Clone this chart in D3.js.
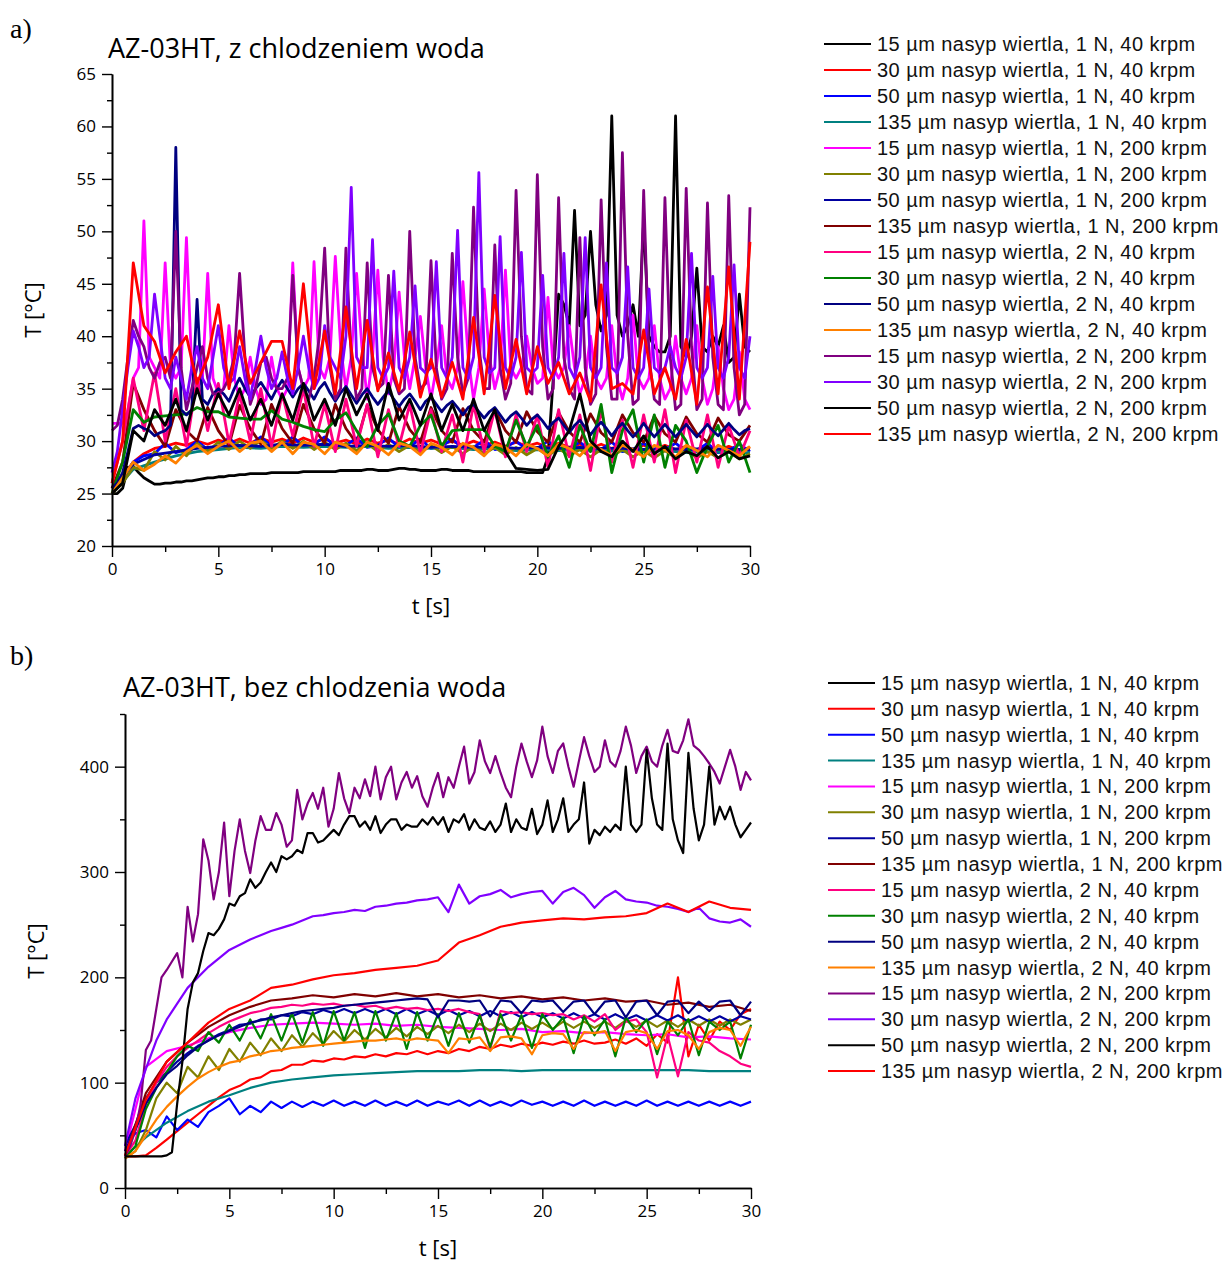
<!DOCTYPE html>
<html><head><meta charset="utf-8">
<script src="https://cdn.jsdelivr.net/npm/d3@7"></script>
<style>body{margin:0;background:#fff}</style>
</head><body>
<svg id="chart" width="1224" height="1262"></svg>
<script>
// ---------- legend / series definitions ----------
const seriesNames = [
  "15 µm nasyp wiertla, 1 N, 40 krpm",
  "30 µm nasyp wiertla, 1 N, 40 krpm",
  "50 µm nasyp wiertla, 1 N, 40 krpm",
  "135 µm nasyp wiertla, 1 N, 40 krpm",
  "15 µm nasyp wiertla, 1 N, 200 krpm",
  "30 µm nasyp wiertla, 1 N, 200 krpm",
  "50 µm nasyp wiertla, 1 N, 200 krpm",
  "135 µm nasyp wiertla, 1 N, 200 krpm",
  "15 µm nasyp wiertla, 2 N, 40 krpm",
  "30 µm nasyp wiertla, 2 N, 40 krpm",
  "50 µm nasyp wiertla, 2 N, 40 krpm",
  "135 µm nasyp wiertla, 2 N, 40 krpm",
  "15 µm nasyp wiertla, 2 N, 200 krpm",
  "30 µm nasyp wiertla, 2 N, 200 krpm",
  "50 µm nasyp wiertla, 2 N, 200 krpm",
  "135 µm nasyp wiertla, 2 N, 200 krpm"
];
const seriesColors = ["#000000","#ff0000","#0000ff","#008080","#ff00ff","#808000","#0000a0","#800000",
                      "#ff0080","#008000","#000080","#ff8000","#800080","#8000ff","#000000","#ff0000"];

// time axis: each series is sampled uniformly over 0..30 s
const timeSpan = [0, 30];
const xTicksMajor = [0, 5, 10, 15, 20, 25, 30];
const xTicksMinor = [2.5, 7.5, 12.5, 17.5, 22.5, 27.5];
const yTicksA = [20, 25, 30, 35, 40, 45, 50, 55, 60, 65];
const yTicksAMinor = [22.5, 27.5, 32.5, 37.5, 42.5, 47.5, 52.5, 57.5, 62.5];
const yTicksB = [0, 100, 200, 300, 400];
const yTicksBMinor = [50, 150, 250, 350, 450];

// ---------- panel a) values (°C) ----------
const a1 = [25,25,25.5,27.5, 27.6,27,26.5,26.2, 25.9,25.9,26.0,26.0, 26.1,26.1,26.2,26.2,
  26.3,26.4,26.5,26.5, 26.6,26.6,26.7,26.7, 26.8,26.8,26.9,26.9, 26.9,26.9,27.0,27.0,
  27.0,27.0,27.0,27.0, 27.1,27.1,27.1,27.1, 27.1,27.1,27.1,27.2, 27.2,27.2,27.2,27.2,
  27.3,27.3,27.2,27.2, 27.2,27.3,27.4,27.4, 27.3,27.3,27.2,27.2, 27.2,27.2,27.3,27.3,
  27.2,27.2,27.2,27.2, 27.1,27.1,27.1,27.1, 27.1,27.1,27.1,27.1, 27.1,27.1,27.0,27.0,
  27.0,27.0,28.5,36, 44,43,41,52, 41,42,50,43, 40.5,42,61,42,
  40,41,43,40, 51,40,39,38.5, 38.5,40,61,39, 38,40,46.5,39,
  38.5,40,39,41, 37.5,38,44,39, 38.5];
const a2 = [25.5,26.5,28,28.8,29.3,29.5,29.8,29.6,30,29.7,
  30.1,29.8,30.2,29.8,30.3,29.9,30.2,29.8,30.3,29.9,
  30.2,29.8,30.1,29.7,30.2,29.8,30.1,29.7,30.2,29.8,
  30.1,29.7,30,29.6,30,29.6,29.9,29.5,29.9,29.5,
  29.8,29.4,29.8,29.4,29.7,29.3,29.7,29.3,29.6,29.2,
  29.6,29.2,29.6,29.2,29.5,29.2,29.5,29.1,29.5,29.1,
  29.4];
const a3 = [25.5,26.5,28,28.6,28.8,29.8,28.9,29.2,30,29.2,
  29.5,30.3,29.4,29.6,30.4,29.5,29.6,30.4,29.5,29.7,
  30.4,29.5,29.6,30.3,29.4,29.6,30.3,29.4,29.5,30.2,
  29.3,29.5,30.2,29.3,29.4,30.1,29.2,29.4,30.0,29.2,
  29.3,30.0,29.1,29.3,29.9,29.1,29.2,29.9,29.0,29.2,
  29.8,29.0,29.2,29.8,29.0,29.1,29.8,28.9,29.1,29.7,
  29.0];
const a4 = [25,27.3,28.0,28.6,29.0,29.2,29.4,29.3,29.5,29.4,29.5,29.4,29.5,29.3,29.4,29.3,
  29.4,29.2,29.3,29.1,29.2,29.1,29.2,29.0,29.1,29.0,29.1,28.9,29.0,28.9,28.9];
const a5 = [31.7,31.7,31.7,33, 36,37,51,38, 37,36,47,37, 36,37,49.4,37,
  35,36,46,36, 34.5,35,41,36, 34,35,38,35, 33.5,34,38,35,
  34,35,47,37, 35,36,47.1,37, 36,38,47.6,39, 35,38,46,39,
  34,38,46.3,38, 34.5,37,44.2,38, 35,38,41.9,37, 34,37,41,36,
  35,37,45.2,38, 34,37,44.5,38, 35,37,46.3,37, 36,37,40,37,
  35.5,36,43.7,37, 36,37,41,37, 34.5,36,40,36, 35,36,41,36,
  34,36,42,36, 35,36,41,36, 34,35,40,36, 34.5,36,41,36,
  33.5,35,39,35, 33,34,38.5,34, 33];
const a6 = [25,26,27.5,27.2,29.0,28.2,29.5,28.6,29.8,29.0,
  29.9,29.2,30.0,29.3,30.1,29.3,30.0,29.3,30.0,29.2,
  29.9,29.2,29.8,29.1,29.8,29.0,29.7,29.0,29.6,28.9,
  29.6,28.9,29.5,28.8,29.5,28.8,29.4,28.7,29.4,28.7,
  29.3,28.6,29.3,28.6,29.2,28.5,29.2,28.5,29.2,28.5,
  29.1,28.4,29.1,28.4,29.1,28.4,29.0,28.4,29.0,28.3,
  28.8];
const a7 = [25.5,27.8,28.7,29.0,29.3,29.5,29.6,29.5,29.7,29.6,29.7,29.5,29.6,29.5,29.6,29.4,
  29.5,29.4,29.5,29.3,29.4,29.3,29.4,29.3,29.3,29.2,29.3,29.2,29.3,29.2,29.2];
const a8 = [25.5,28,35.5,33,31,29.5,33,31,30,33.2,
  31,29.6,33.4,31.2,29.7,33.5,31.2,29.8,33.5,31.2,
  29.8,33.5,31.2,29.8,33.4,31.1,29.8,33.3,31.1,29.9,
  33.2,31,29.9,33.1,31,29.9,33,31,29.9,32.8,
  30.9,29.9,32.7,30.9,29.9,32.6,30.8,29.9,32.5,30.8,
  29.9,32.4,30.7,29.9,32.3,30.7,29.9,32.2,30.6,30.0,
  31.5];
const a9 = [26,30,36,31,36.5,30,35,29.5,36,31,
  35.5,29.8,34.5,30,35,29.5,34.5,30.5,35,29.5,
  33.5,29,34,29.5,33.5,28.5,33,29.5,33.5,28.8,
  33,29,32.5,28,33.5,29,33,28.5,32.5,29,
  32.5,27.5,33,28.5,32.5,27.2,33,28,32,27.5,
  32.5,28,33,27,32,28,32.5,27.5,31.5,28.5,
  31];
const a10 = [25,28,33,31.8,32.3,32.4,32.5,32.6,33.2,32.8,
  32.8,32.3,32.2,32.1,32.1,32.9,32.1,31.8,31.4,31.1,
  30.9,32,32.7,31,29.5,31.5,32.6,30,29.5,31.5,
  32.5,29.5,31,31.1,31.1,31.1,29.5,29,32,29.5,
  31.5,28.5,30.5,27.5,31.5,29,33.5,27,31,33,
  28,32.5,27.5,31.5,30,27,29.5,31.5,28,30,
  27];
const a11 = [25.5,26,27,29, 31.2,31.5,31.2,31, 30.5,30.8,31,31.5, 58,33,32.5,33,
  43.5,34,33.5,34.5, 35,34.5,33.8,35, 36,35,34.2,35, 35.6,34.8,34,35,
  35.8,35,34.2,35, 35.5,34.8,34,35, 35.6,34.6,33.8,34.6, 35.2,34.4,33.6,34.4,
  35,34.2,33.5,34.2, 34.8,34,33.3,34, 34.5,33.8,33,33.8, 34.2,33.5,32.8,33.4,
  33.8,33.2,32.5,33.2, 33.5,32.8,32.2,32.8, 33.2,32.5,31.8,32.4, 32.8,32.2,31.5,32.1,
  32.5,31.9,31.2,31.8, 32.2,31.5,30.8,31.5, 32,31.3,30.6,31.3, 31.8,31.2,30.5,31.2,
  31.7,31,30.4,31, 31.7,31,30.4,31, 31.6,31,30.4,31, 31.6,31,30.4,31,
  31.6,31,30.5,31.1, 31.7,31.1,30.6,31, 31.2];
const a12 = [25,26.5,28,27.2,27.8,28.6,27.9,29,29.6,28.8,
  29.5,30,29,29.8,30,29,29.9,28.8,29.9,29.7,
  28.8,29.9,29.6,28.8,29.9,29.5,28.7,29.8,29.5,28.7,
  29.8,29.4,28.7,29.8,29.4,28.6,29.7,29.4,28.6,29.7,
  29.3,28.6,29.7,29.3,28.6,29.7,29.2,28.6,29.6,29.2,
  28.5,29.6,29.2,28.5,29.6,29.1,28.5,29.6,29.1,28.6,
  29.5];
const a13 = [31,31.5,34,38, 41.5,40,39,37, 36,37.5,38,36, 50,37,33,35,
  37,39,36,34.5, 34.5,35,36,38, 46,38,33.5,35, 37.5,38,36,35,
  35,36,45.8,37, 35,34,36,40, 48.4,37,34,35, 48.4,38,34,35,
  47,37,35,35.5, 45.8,36,34.5,35, 50,38,35,35.5, 47.2,37,34,35,
  47.9,38,34.5,36, 52.3,39,35,35, 48.7,37,34,35.5, 53.9,40,35,34.5,
  55.4,39,34,35, 53.2,38,35,34, 49.4,37,33.5,34.5, 53,39,34,34,
  57.5,40,33.5,34, 53.9,38,34,33.5, 53.2,38,33,33.5, 54.1,39,33,34,
  52.7,38,33.5,33, 53.4,37,32.5,33.5, 52.3];
const a14 = [27,29,33,37, 40.5,39,37,38, 44,40,36,35, 38,36,34,37,
  39,36,35,38, 41,37,35.5,36, 39,36,34,37, 40,37,35,36,
  38.5,36,34.5,37, 40,37,35,36, 41,38,37,36, 40,54.2,38,37,
  37,49.2,37,36, 37,46.2,37,36, 38,44.8,37,36.5, 37,47.1,37,36,
  38,50.1,37,36, 38,55.6,38,36.5, 37,49.5,37,36, 38,48,37,36.5,
  37,45.8,37,36, 38,47.9,37,36, 38,49.4,37,36, 37,47,37,36.5,
  38,46.6,37,36, 37,44.5,37,36.5, 37,39,37,36, 38,47.9,37,36,
  37,45.7,37,36, 38,46.8,37,36, 40];
const a15 = [25,26,31,30,33,31.5,34,31,35,32,
  34.5,32.5,35,32,34,31.5,34.5,32,35.5,32,
  34,31.5,35,32.5,34.5,31,35.5,32,34,31.5,
  34.5,31,33.5,31,34,31,33,29,27.4,27.3,
  27.2,27.3,29.5,31,34.5,30,29,28.5,30,29,
  30.5,28.8,29.5,28.3,29,28.6,29.5,28.4,29,28.3,
  28.6];
const a16 = [26,30,47,41,39.5,36.5,38.5,40,35.5,38,
  43,35,40.5,35.5,37.5,39.5,39.5,35,45,35,
  40.5,34.5,42.8,35,41.5,34.8,38.4,34.8,40.4,34.2,
  37.8,34.2,37.5,34,41.8,34.5,43.9,35,39.7,34.5,
  39,35.5,37.5,34.5,36.5,33.8,44.9,35,35.5,34.5,
  40.6,34.5,37,34,39.7,33.5,44.7,34.5,46.6,34,
  49];

// ---------- panel b) values (°C) ----------
const b2 = [30,30,31,38,46,54,62,70,78,86,
  93,97,103,105,111,112,117,117,121,120,
  123,122,125,124,127,125,128,127,130,127,
  130,128,132,130,134,132,136,134,137,135,
  138,136,139,137,140,137,138,141,137,142,
  135,146,138,200,125,155,140,158,150,165,
  170];
const b3 = [40,52,55,48,68,55,65,58,72,78,
  85,70,78,72,82,76,82,77,82,78,
  83,78,82,78,83,78,82,78,83,78,
  82,79,83,78,83,78,82,78,83,79,
  82,78,82,78,83,78,82,78,82,78,
  83,78,82,78,82,78,82,78,82,78,
  82];
const b4 = [30,48,62,73,82,88,95,100,103,105,107,108,109,110,111,111,
  111,112,112,111,112,112,112,112,112,112,112,112,111,111,111];
const b5 = [35,115,130,135,142,148,152,155,156,157,156,155,156,154,155,153,
  152,151,150,151,148,149,147,148,146,145,146,143,144,142,141];
const b6 = [28,35,55,85,100,90,115,105,125,112,
  132,120,138,126,142,130,145,134,147,137,
  149,139,150,141,151,143,152,144,153,146,
  154,147,155,148,156,149,156,150,157,151,
  157,151,158,152,158,152,158,152,159,153,
  159,153,159,153,160,154,160,154,160,155,
  160];
const b7 = [40,60,85,100,110,120,128,135,140,146,
  150,155,156,160,160,164,163,167,165,169,
  166,170,166,170,166,170,165,170,165,169,
  164,169,164,168,163,168,163,167,162,167,
  162,166,161,166,161,165,160,165,160,164,
  159,164,159,164,158,163,158,163,158,163,
  160];
const b8 = [30,90,120,138,153,164,172,178,180,183,181,184,182,185,182,184,
  181,183,180,182,179,181,178,180,177,178,174,176,172,174,168];
const b9 = [30,45,80,100,115,125,133,140,147,153,
  158,162,166,168,171,172,174,173,175,174,
  175,173,174,172,173,170,172,170,171,169,
  170,168,170,167,165,132,168,166,167,165,
  166,164,165,160,164,158,165,150,158,160,
  148,105,145,106,148,140,138,130,125,118,
  115];
const b10 = [28,40,75,95,110,125,135,130,148,138,
  155,140,160,142,165,140,166,138,167,135,
  168,140,167,133,168,140,166,132,167,140,
  165,135,166,138,164,134,165,140,164,133,
  165,150,162,128,163,145,160,125,162,148,
  160,127,158,145,160,126,158,150,158,123,
  155];
const b11 = [35,55,80,95,108,116,126,134,140,145,
  149,153,157,159,162,164,166,168,169,170,
  171,173,174,175,176,177,178,179,180,179,
  162,178,178,177,178,163,178,177,166,178,
  177,178,167,177,178,165,177,178,162,177,
  178,164,177,178,166,177,168,177,178,164,
  177];
const b12 = [28,35,50,65,77,87,96,104,110,115,
  119,121,125,127,130,131,133,134,135,136,
  137,138,139,140,140,141,142,140,142,141,
  140,128,142,141,143,130,143,144,142,127,
  145,147,146,132,148,147,149,130,148,150,
  147,132,149,150,145,132,148,152,150,135,
  153];
const b13 = [30,40,55,80, 131,140,170,200, 207,215,223,200, 267,234,260,331,
  311,274,300,347, 277,320,350,320, 299,330,353,340, 340,356,345,324,
  330,378,350,365, 375,360,380,343, 360,394,370,356, 380,370,388,372,
  400,369,390,400, 369,385,395,380, 391,372,362,380, 394,371,390,380,
  400,419,384,395, 425,405,394,410, 394,380,371,400, 422,405,390,406,
  438,410,394,415, 422,400,381,405, 428,410,395,400, 425,405,400,415,
  438,420,394,410, 419,405,400,420, 435,415,413,425, 445,420,416,410,
  403,395,384,400, 416,400,378,395, 387];
const b14 = [40,85,113,140,160,175,190,200,210,218,
  226,231,236,240,244,247,250,254,258,259,
  261,262,264,263,267,268,270,271,273,274,
  276,262,288,270,277,279,283,276,279,281,
  282,270,281,285,278,266,276,282,274,272,
  271,268,267,265,262,266,256,253,252,255,
  248];
const b15 = [30,30,30,30, 30,30,30,30, 31,34,80,120, 170,195,204,225,
  242,240,246,255, 270,268,277,280, 293,285,290,300, 309,300,315,312,
  315,321,318,337, 337,328,330,335, 340,335,345,353, 353,343,348,340,
  353,337,345,350, 350,340,345,343, 343,350,345,352, 345,352,338,350,
  347,355,340,350, 342,340,348,338, 345,365,338,350, 342,340,360,336,
  345,368,338,350, 370,338,345,350, 385,327,340,335, 343,338,345,340,
  400,345,338,345, 416,370,345,340, 422,350,330,318, 413,360,330,345,
  400,345,362,350, 362,345,333,340, 347];
const b16 = [31,84,120,138,157,170,178,190,193,198,202,204,207,209,211,216,
  233,240,248,252,254,256,255,257,258,261,270,262,272,266,264];

const panelAData = [a1,a2,a3,a4,a5,a6,a7,a8,a9,a10,a11,a12,a13,a14,a15,a16];
const panelBData = [null,b2,b3,b4,b5,b6,b7,b8,b9,b10,b11,b12,b13,b14,b15,b16];

// ---------- drawing ----------
const svg = d3.select("#chart");
const tickFont = "'Open Sans', 'Noto Sans', sans-serif";

function drawPanel(cfg) {
  const x = d3.scaleLinear().domain(timeSpan).range([cfg.left, cfg.right]);
  const y = d3.scaleLinear().domain(cfg.yDomain).range([cfg.bottom, cfg.top]);
  const g = svg.append("g");

  const line = d3.line()
    .x((d, i, arr) => x(timeSpan[0] + i * (timeSpan[1] - timeSpan[0]) / (arr.length - 1)))
    .y(d => y(d));
  cfg.data.forEach((vals, k) => {
    if (!vals) return;
    g.append("path").datum(vals)
      .attr("d", line)
      .attr("fill", "none")
      .attr("stroke", seriesColors[k])
      .attr("stroke-width", cfg.lineWidth)
      .attr("stroke-linejoin", "round");
  });

  const styleAxis = sel => {
    sel.selectAll("path.domain").attr("stroke", "#000").attr("stroke-width", 1.6);
    sel.selectAll(".tick line").attr("stroke", "#000").attr("stroke-width", 1.4);
    sel.selectAll("text").attr("font-family", tickFont).attr("font-size", 17).attr("fill", "#000");
  };
  g.append("g").attr("transform", `translate(0,${cfg.bottom})`)
    .call(d3.axisBottom(x).tickValues(xTicksMinor).tickSize(6).tickFormat("").tickSizeOuter(0)).call(styleAxis);
  g.append("g").attr("transform", `translate(0,${cfg.bottom})`)
    .call(d3.axisBottom(x).tickValues(xTicksMajor).tickSize(11).tickPadding(6).tickSizeOuter(0)).call(styleAxis);
  g.append("g").attr("transform", `translate(${cfg.left},0)`)
    .call(d3.axisLeft(y).tickValues(cfg.yMinor).tickSize(5).tickFormat("").tickSizeOuter(0)).call(styleAxis);
  g.append("g").attr("transform", `translate(${cfg.left},0)`)
    .call(d3.axisLeft(y).tickValues(cfg.yMajor).tickSize(10).tickPadding(6).tickSizeOuter(0)).call(styleAxis);

  g.append("text").attr("x", 10).attr("y", cfg.letterY)
    .attr("font-family", "'Liberation Serif', serif").attr("font-size", 28).text(cfg.letter);
  g.append("text").attr("x", cfg.titleX).attr("y", cfg.titleY)
    .attr("font-family", tickFont).attr("font-size", 27).text(cfg.title);
  g.append("text").attr("transform", `translate(${cfg.yLabelX},${(cfg.top + cfg.bottom) / 2}) rotate(-90)`)
    .attr("text-anchor", "middle").attr("font-family", tickFont).attr("font-size", 22).text("T [°C]");
  g.append("text").attr("x", (cfg.left + cfg.right) / 2).attr("y", cfg.xLabelY)
    .attr("text-anchor", "middle").attr("font-family", tickFont).attr("font-size", 22).text("t [s]");

  const lg = g.append("g");
  seriesNames.forEach((name, k) => {
    const ly = cfg.legendY0 + k * cfg.legendStep;
    lg.append("line").attr("x1", cfg.legendX).attr("x2", cfg.legendX + 47)
      .attr("y1", ly).attr("y2", ly)
      .attr("stroke", seriesColors[k]).attr("stroke-width", 2);
    lg.append("text").attr("x", cfg.legendX + 53).attr("y", ly + 7)
      .attr("font-family", "'Liberation Sans', Arial, sans-serif").attr("font-size", 20)
      .attr("letter-spacing", 0.45).attr("fill", "#111").text(name);
  });
}

drawPanel({
  data: panelAData, left: 112, right: 750, top: 74, bottom: 546, yDomain: [20, 65],
  yMajor: yTicksA, yMinor: yTicksAMinor, lineWidth: 2.8,
  letter: "a)", letterY: 38, title: "AZ-03HT, z chlodzeniem woda", titleX: 108, titleY: 58,
  yLabelX: 41, xLabelY: 614, legendX: 824, legendY0: 44, legendStep: 26
});
drawPanel({
  data: panelBData, left: 125, right: 751, top: 714, bottom: 1188, yDomain: [0, 450],
  yMajor: yTicksB, yMinor: yTicksBMinor, lineWidth: 2.2,
  letter: "b)", letterY: 665, title: "AZ-03HT, bez chlodzenia woda", titleX: 123, titleY: 697,
  yLabelX: 44, xLabelY: 1256, legendX: 828, legendY0: 683, legendStep: 25.87
});
</script>
</body></html>
